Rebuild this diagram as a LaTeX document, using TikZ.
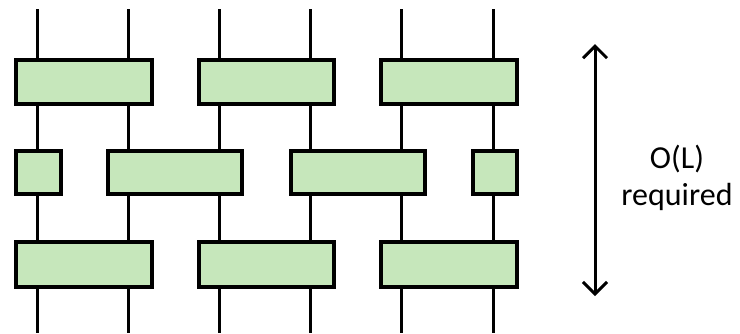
\documentclass[tikz,border=0pt]{standalone}
\usepackage{fontspec}
\setmainfont{Carlito}
\usetikzlibrary{arrows.meta}
\definecolor{gatefill}{RGB}{198,231,187}
\begin{document}
\begin{tikzpicture}[x=1pt,y=-1pt,
  wire/.style={line width=3pt},
  gate/.style={draw, line width=3.5pt, fill=gatefill, inner sep=0pt, anchor=north west},
  lbl/.style={font=\fontsize{32}{37}\selectfont, align=center}]
\useasboundingbox (0,0) rectangle (740,333);
% wires
\foreach \i/\x in {1/37,2/128,3/219,4/310,5/401,6/493}{
  \coordinate (t\i) at (\x,9);
  \coordinate (b\i) at (\x,333);
  \draw[wire] (t\i) -- (b\i);
}
% row 1
\node[gate, minimum width=136pt, minimum height=44pt] (g11) at (14,58) {};
\node[gate, minimum width=135pt, minimum height=44pt] (g12) at (197,58) {};
\node[gate, minimum width=136pt, minimum height=44pt] (g13) at (379,58) {};
% row 2
\node[gate, minimum width=45pt, minimum height=43pt] (g21) at (14,149) {};
\node[gate, minimum width=134pt, minimum height=43pt] (g22) at (106,149) {};
\node[gate, minimum width=134pt, minimum height=43pt] (g23) at (289,149) {};
\node[gate, minimum width=44pt, minimum height=43pt] (g24) at (471,149) {};
% row 3
\node[gate, minimum width=136pt, minimum height=45pt] (g31) at (14,240) {};
\node[gate, minimum width=135pt, minimum height=45pt] (g32) at (197,240) {};
\node[gate, minimum width=136pt, minimum height=45pt] (g33) at (379,240) {};
% arrow
\coordinate (atop) at (595,44);
\coordinate (abot) at (595,296);
\draw[line width=3pt, {Straight Barb[length=12pt,width=24pt,line width=3pt]}-{Straight Barb[length=12pt,width=24pt,line width=3pt]}] (atop) -- (abot);
\node[lbl] (txt) at (677,178) {O(L)\\required};
\end{tikzpicture}
\end{document}
